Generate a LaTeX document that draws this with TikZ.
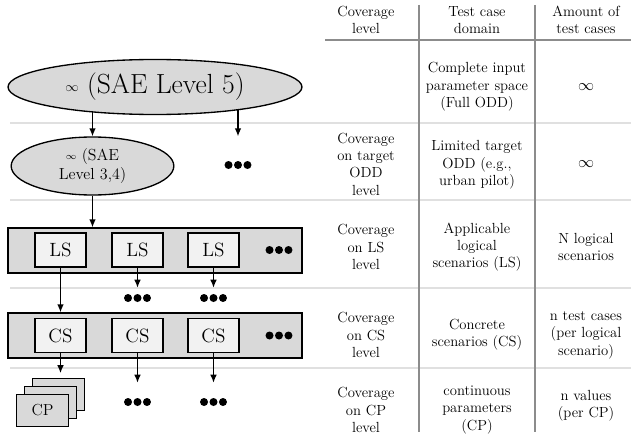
\documentclass[tikz,border=0pt]{standalone}
\usepackage{amsmath}
\usepackage{tikz}
\usetikzlibrary{arrows}
\usetikzlibrary{arrows.meta}
\usetikzlibrary{shapes}
\usetikzlibrary{backgrounds}
\usetikzlibrary{positioning}

\tikzset{
  level/.style={ellipse, draw, line width=1pt, fill=black!15, inner sep=0pt, align=center},
  scenrow/.style={rectangle, draw, line width=1pt, fill=black!15, minimum width=220.5pt, minimum height=33.75pt},
  scen/.style={rectangle, draw, line width=1pt, fill=black!5, minimum width=38.25pt, minimum height=25.5pt, inner sep=0pt, font=\Large},
  param/.style={rectangle, draw, line width=1pt, fill=black!15, minimum width=39pt, minimum height=24pt, inner sep=0pt, font=\large},
  moredots/.style={minimum width=21pt, minimum height=#1, inner sep=0pt, path picture={
      \fill ([xshift=-7.1pt]path picture bounding box.center) circle (3pt);
      \fill (path picture bounding box.center) circle (3pt);
      \fill ([xshift=7.1pt]path picture bounding box.center) circle (3pt);}},
  moredots/.default=8pt,
  conn/.style={-{Latex[length=6pt,width=5pt]}, line width=1pt},
  cell/.style={align=center, inner sep=0pt, font=\fontsize{11}{13}\selectfont},
  rowline/.style={black!12, line width=1.2pt},
  colline/.style={black!45, line width=0.9pt}
}

\begin{document}
\begin{tikzpicture}[x=0.75pt, y=-0.75pt]
  \useasboundingbox (0,0) rectangle (631,435);

  \begin{scope}[on background layer]
    \draw[rowline] (10,123) -- (631,123);
    \draw[rowline] (10,200) -- (631,200);
    \draw[rowline] (10,288) -- (631,288);
    \draw[rowline] (10,368) -- (631,368);
    \draw[colline] (325,40) -- (631,40);
    \draw[colline] (419,5) -- (419,432);
    \draw[colline] (535,5) -- (535,432);
  \end{scope}

  % table
  \node[cell] (hcov) at (366,20) {Coverage\\level};
  \node[cell] (hdom) at (477,20) {Test case\\domain};
  \node[cell] (hamt) at (586,20) {Amount of\\test cases};

  \node[cell] (dom5) at (477,87) {Complete input\\parameter space\\(Full ODD)};
  \node[cell, font=\large] (amt5) at (586,87) {$\infty$};

  \node[cell] (cov34) at (366,164) {Coverage\\on target\\ODD\\level};
  \node[cell] (dom34) at (477,165) {Limited target\\ODD (e.g.,\\urban pilot)};
  \node[cell, font=\large] (amt34) at (586,164) {$\infty$};

  \node[cell] (covls) at (366,247) {Coverage\\on LS\\level};
  \node[cell] (domls) at (477,247) {Applicable\\logical\\scenarios (LS)};
  \node[cell] (amtls) at (586,247) {N logical\\scenarios};

  \node[cell] (covcs) at (366,335) {Coverage\\on CS\\level};
  \node[cell] (domcs) at (477,335) {Concrete\\scenarios (CS)};
  \node[cell] (amtcs) at (586,335) {n test cases\\(per logical\\scenario)};

  \node[cell] (covcp) at (366,410) {Coverage\\on CP\\level};
  \node[cell] (domcp) at (477,410) {continuous\\parameters\\(CP)};
  \node[cell] (amtcp) at (586,406) {n values\\(per CP)};

  % levels
  \node[level, minimum width=220.5pt, minimum height=41.25pt, font=\huge] (sae5) at (155,87)
    {\raisebox{2pt}{\normalsize$\infty$} (SAE Level 5)};
  \node[level, minimum width=122pt, minimum height=43.5pt, font=\large] (lvl34) at (92.5,166)
    {\raisebox{1pt}{\scriptsize$\infty$} (SAE\\Level 3,4)};
  \node[moredots] (more0) at (238,165) {};

  \begin{scope}[on background layer]
    \draw[conn] (sae5.center -| lvl34.north) -- (lvl34.north);
    \draw[conn] (sae5.center -| more0) -- (more0 |- lvl34.north);
  \end{scope}

  % logical scenarios
  \node[scenrow] (lsrow) at (155,250.5) {};
  \node[scen] (ls1) at (60.5,250) {LS};
  \node[scen] (ls2) at (137.5,250) {LS};
  \node[scen] (ls3) at (213.5,250) {LS};
  \node[moredots] (ls4) at (279,250) {};
  \node[moredots=15pt] (mls2) at (137.5,298) {};
  \node[moredots=15pt] (mls3) at (213.5,298) {};

  % concrete scenarios
  \node[scenrow] (csrow) at (155,335.5) {};
  \node[scen] (cs1) at (60.5,335.5) {CS};
  \node[scen] (cs2) at (137.5,335.5) {CS};
  \node[scen] (cs3) at (213.5,335.5) {CS};
  \node[moredots] (cs4) at (279,335.5) {};
  \node[moredots=28.5pt] (mcs2) at (137.5,402) {};
  \node[moredots=28.5pt] (mcs3) at (213.5,402) {};

  % parameters
  \node[param] (cpa) at (58.5,394.5) {};
  \node[param] (cpb) at (50.5,402.5) {};
  \node[param] (cpc) at (42.5,410.5) {CP};

  \draw[conn] (lvl34.south) -- (lvl34.south |- lsrow.north);
  \draw[conn] (ls1.south) -- (ls1.south |- csrow.north);
  \draw[conn] (ls2.south) -- (mls2.north);
  \draw[conn] (ls3.south) -- (mls3.north);
  \draw[conn, shorten >=3.5pt] (cs1.south) -- (cs1.south |- cpa.north);
  \draw[conn] (cs2.south) -- (mcs2.north);
  \draw[conn] (cs3.south) -- (mcs3.north);
\end{tikzpicture}
\end{document}
